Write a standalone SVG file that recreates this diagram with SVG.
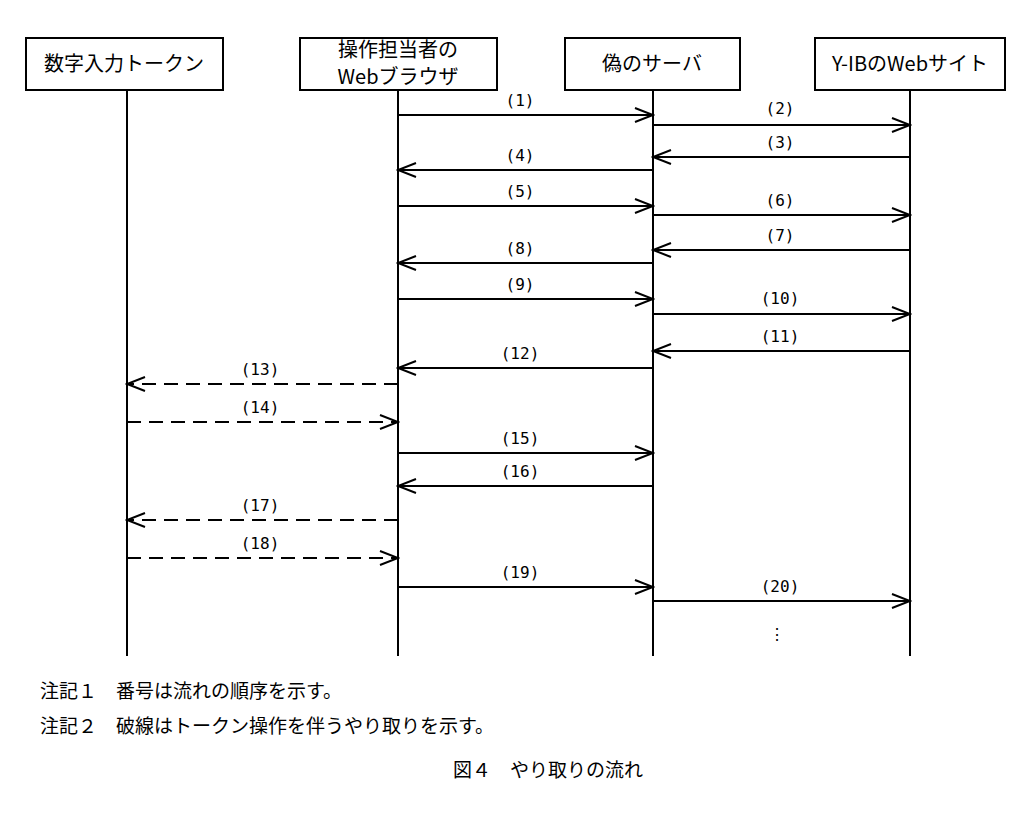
<svg xmlns="http://www.w3.org/2000/svg" width="1034" height="832" viewBox="0 0 1034 832">
<style>
.box{fill:#fff;stroke:#000;stroke-width:2}
.ll{stroke:#000;stroke-width:2}
.a{stroke:#000;stroke-width:2;fill:none;marker-end:url(#ah)}
.d{stroke-dasharray:14,8}
text{font-family:"Noto Sans CJK JP","DejaVu Sans Mono",sans-serif;fill:#000}
.h{font-size:20px;text-anchor:middle}
.l{font-family:"DejaVu Sans Mono","Liberation Mono",monospace;font-size:16px;text-anchor:middle}
.n{font-size:19px}
</style>
<defs><marker id="ah" markerWidth="22" markerHeight="16" refX="20" refY="8" orient="auto" markerUnits="userSpaceOnUse"><path d="M2,1 L20,8 L2,15" fill="none" stroke="#000" stroke-width="2"/></marker></defs>
<rect width="1034" height="832" fill="#fff"/>
<g id="n1"><rect class="box" x="26" y="38" width="197" height="52"/><text class="h" x="124" y="71">数字入力トークン</text><line class="ll" x1="127" y1="90" x2="127" y2="656"/></g>
<g id="n2"><rect class="box" x="300" y="38" width="197" height="52"/><text class="h" x="398" y="57" font-size="16">操作担当者の</text><text class="h" x="398" y="84" font-size="16">Webブラウザ</text><line class="ll" x1="398" y1="90" x2="398" y2="656"/></g>
<g id="n3"><rect class="box" x="565" y="38" width="175" height="52"/><text class="h" x="652" y="71">偽のサーバ</text><line class="ll" x1="653" y1="90" x2="653" y2="656"/></g>
<g id="n4"><rect class="box" x="815" y="38" width="190" height="52"/><text class="h" x="910" y="71">Y-IBのWebサイト</text><line class="ll" x1="910" y1="90" x2="910" y2="656"/></g>
<g id="connectors">
<line class="a" x1="398" y1="115" x2="653" y2="115"/><text class="l" x="520" y="106">(1)</text>
<line class="a" x1="653" y1="125" x2="910" y2="125"/><text class="l" x="780" y="114">(2)</text>
<line class="a" x1="910" y1="157" x2="653" y2="157"/><text class="l" x="780" y="148">(3)</text>
<line class="a" x1="653" y1="170" x2="398" y2="170"/><text class="l" x="520" y="161">(4)</text>
<line class="a" x1="398" y1="206" x2="653" y2="206"/><text class="l" x="520" y="197">(5)</text>
<line class="a" x1="653" y1="215" x2="910" y2="215"/><text class="l" x="780" y="206">(6)</text>
<line class="a" x1="910" y1="250" x2="653" y2="250"/><text class="l" x="780" y="241">(7)</text>
<line class="a" x1="653" y1="263" x2="398" y2="263"/><text class="l" x="520" y="254">(8)</text>
<line class="a" x1="398" y1="299" x2="653" y2="299"/><text class="l" x="520" y="290">(9)</text>
<line class="a" x1="653" y1="314" x2="910" y2="314"/><text class="l" x="780" y="304">(10)</text>
<line class="a" x1="910" y1="351" x2="653" y2="351"/><text class="l" x="780" y="342">(11)</text>
<line class="a" x1="653" y1="368" x2="398" y2="368"/><text class="l" x="520" y="359">(12)</text>
<line class="a d" x1="398" y1="384" x2="127" y2="384"/><text class="l" x="260" y="375">(13)</text>
<line class="a d" x1="127" y1="422" x2="398" y2="422"/><text class="l" x="260" y="413">(14)</text>
<line class="a" x1="398" y1="453" x2="653" y2="453"/><text class="l" x="520" y="444">(15)</text>
<line class="a" x1="653" y1="486" x2="398" y2="486"/><text class="l" x="520" y="477">(16)</text>
<line class="a d" x1="398" y1="520" x2="127" y2="520"/><text class="l" x="260" y="511">(17)</text>
<line class="a d" x1="127" y1="558" x2="398" y2="558"/><text class="l" x="260" y="549">(18)</text>
<line class="a" x1="398" y1="587" x2="653" y2="587"/><text class="l" x="520" y="578">(19)</text>
<line class="a" x1="653" y1="601" x2="910" y2="601"/><text class="l" x="780" y="592">(20)</text>
<text class="l" x="777" y="640">⋮</text>
</g>
<text class="n" x="40" y="698">注記１　番号は流れの順序を示す。</text>
<text class="n" x="40" y="733">注記２　破線はトークン操作を伴うやり取りを示す。</text>
<text class="n" x="548" y="777" text-anchor="middle" font-size="21">図４　やり取りの流れ</text>
</svg>
